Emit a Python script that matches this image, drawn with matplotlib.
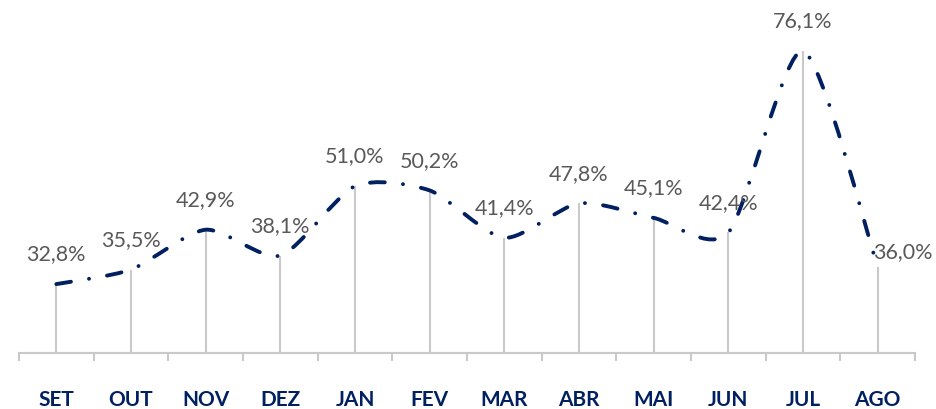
import numpy as np
import matplotlib
matplotlib.use("Agg")
import matplotlib.pyplot as plt
from matplotlib.path import Path
from matplotlib.patches import PathPatch

# data
months = ["SET", "OUT", "NOV", "DEZ", "JAN", "FEV", "MAR", "ABR", "MAI", "JUN", "JUL", "AGO"]
values = [32.8, 35.5, 42.9, 38.1, 51.0, 50.2, 41.4, 47.8, 45.1, 42.4, 76.1, 36.0]
labels = ["32,8%", "35,5%", "42,9%", "38,1%", "51,0%", "50,2%", "41,4%", "47,8%",
          "45,1%", "42,4%", "76,1%", "36,0%"]

navy = "#002060"
grey_line = "#c9c9c9"
grey_text = "#595959"

fig = plt.figure(figsize=(9.37, 4.10), dpi=100)
ax = fig.add_axes([0.0203, 0.1366, 0.9562, 0.7878])

x = np.arange(len(months))
y = np.array(values)

# drop lines from each point down to the axis
ax.vlines(x, 20, y, color=grey_line, lw=1.5, zorder=1)

# smoothed line (Bezier through the points, like a spreadsheet "smooth line")
pts = np.column_stack([x, y]).astype(float)
verts = [pts[0]]
codes = [Path.MOVETO]
n = len(pts)
k = 8.0
for i in range(n - 1):
    p0 = pts[max(i - 1, 0)]
    p1 = pts[i]
    p2 = pts[i + 1]
    p3 = pts[min(i + 2, n - 1)]
    c1 = p1 + (p2 - p0) / k
    c2 = p2 - (p3 - p1) / k
    verts += [c1, c2, p2]
    codes += [Path.CURVE4] * 3
lw = 2.8
patch = PathPatch(Path(verts, codes), fill=False, edgecolor=navy, lw=lw,
                  linestyle=(0, (3.8, 4.7, 0.01, 4.7)), capstyle="round", zorder=3)
ax.add_patch(patch)

# value labels
for i, (v, t) in enumerate(zip(values, labels)):
    if i == len(values) - 1:
        ax.annotate(t, (i, v), xytext=(-3, 11), textcoords="offset points",
                    ha="left", va="center", fontsize=15.5, color=grey_text, family="Lato")
    else:
        ax.annotate(t, (i, v), xytext=(0, 22), textcoords="offset points",
                    ha="center", va="center", fontsize=15.5, color=grey_text, family="Lato")

ax.set_xlim(-0.5, len(months) - 0.5)
ax.set_ylim(20, 80)

for s in ["top", "right", "left"]:
    ax.spines[s].set_visible(False)
ax.spines["bottom"].set_color(grey_line)
ax.spines["bottom"].set_linewidth(1.5)
ax.set_yticks([])

ax.set_xticks(x)
ax.set_xticklabels(months, fontsize=15, fontweight="bold", color=navy, family="Lato")
ax.tick_params(axis="x", which="major", length=0, pad=26)
ax.set_xticks(np.arange(-0.5, len(months)), minor=True)
ax.tick_params(axis="x", which="minor", length=6, width=1.5, color=grey_line)

fig.savefig("out.png", dpi=100)
